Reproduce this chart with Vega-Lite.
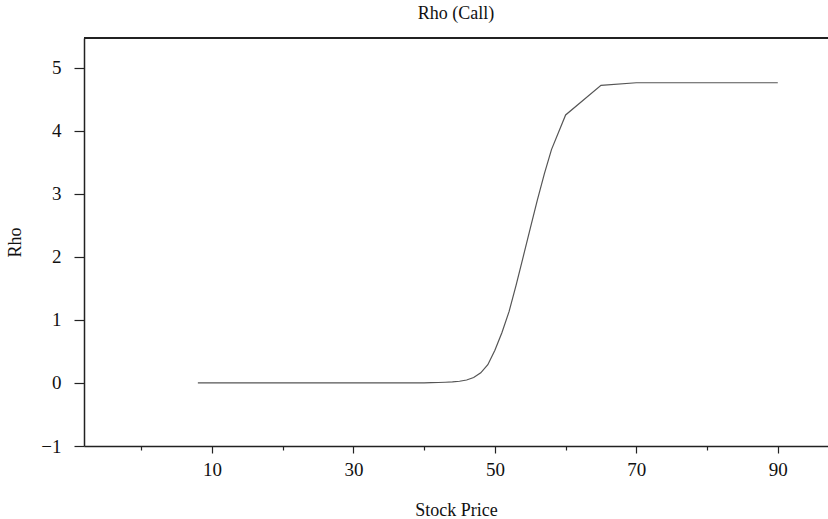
{
  "$schema": "https://vega.github.io/schema/vega-lite/v6.json",
  "width": 744,
  "height": 408,
  "autosize": "none",
  "padding": {"left": 84, "top": 38, "right": 0, "bottom": 73},
  "background": "white",
  "config": {
    "view": {"stroke": null},
    "font": "Liberation Serif",
    "axis": {
      "domainColor": "#222",
      "domainWidth": 1.5,
      "tickColor": "#222",
      "tickWidth": 1.2,
      "grid": false,
      "labelFont": "Liberation Serif",
      "labelFontSize": 19,
      "labelColor": "#111",
      "titleFont": "Liberation Serif",
      "titleFontSize": 18,
      "titleFontWeight": "normal",
      "titleColor": "#111"
    }
  },
  "title": {
    "text": "Rho (Call)",
    "font": "Liberation Serif",
    "fontSize": 18,
    "fontWeight": "normal",
    "color": "#111",
    "anchor": "middle",
    "offset": 14
  },
  "data": {
    "values": [
      {"price": 8, "rho": 0}, {"price": 10, "rho": 0}, {"price": 12, "rho": 0}, {"price": 14, "rho": 0},
      {"price": 16, "rho": 0}, {"price": 18, "rho": 0}, {"price": 20, "rho": 0}, {"price": 22, "rho": 0},
      {"price": 24, "rho": 0}, {"price": 26, "rho": 0}, {"price": 28, "rho": 0}, {"price": 30, "rho": 0},
      {"price": 32, "rho": 0}, {"price": 34, "rho": 0}, {"price": 36, "rho": 0}, {"price": 38, "rho": 0},
      {"price": 40, "rho": 0.002}, {"price": 41, "rho": 0.004}, {"price": 42, "rho": 0.007},
      {"price": 43, "rho": 0.011}, {"price": 44, "rho": 0.017}, {"price": 45, "rho": 0.027},
      {"price": 46, "rho": 0.047}, {"price": 47, "rho": 0.085}, {"price": 48, "rho": 0.16},
      {"price": 49, "rho": 0.29}, {"price": 50, "rho": 0.52}, {"price": 51, "rho": 0.8},
      {"price": 52, "rho": 1.13}, {"price": 53, "rho": 1.55}, {"price": 54, "rho": 2.0},
      {"price": 55, "rho": 2.45}, {"price": 56, "rho": 2.9}, {"price": 57, "rho": 3.32},
      {"price": 58, "rho": 3.7}, {"price": 60, "rho": 4.25}, {"price": 65, "rho": 4.72},
      {"price": 70, "rho": 4.76}, {"price": 75, "rho": 4.76}, {"price": 80, "rho": 4.76},
      {"price": 85, "rho": 4.76}, {"price": 90, "rho": 4.76}
    ]
  },
  "layer": [
    {
      "mark": {"type": "rule", "color": "#222", "strokeWidth": 1.5},
      "encoding": {"y": {"datum": 5.47, "type": "quantitative"}}
    },
    {
      "mark": {"type": "line", "color": "#555", "strokeWidth": 1.2},
      "encoding": {
        "x": {
          "field": "price",
          "type": "quantitative",
          "title": "Stock Price",
          "scale": {"domain": [-8.1, 97.1], "nice": false, "zero": false},
          "axis": {
            "values": [0, 10, 20, 30, 40, 50, 60, 70, 80, 90, 100],
            "format": "d",
            "labelExpr": "datum.value % 20 == 10 ? datum.label : ''",
            "tickSize": {"condition": {"test": "datum.value % 20 == 10", "value": 7}, "value": 4},
            "labelPadding": 7,
            "titlePadding": 22
          }
        },
        "y": {
          "field": "rho",
          "type": "quantitative",
          "title": "Rho",
          "scale": {"domain": [-1, 5.47], "nice": false, "zero": false},
          "axis": {
            "values": [-1, -0.5, 0, 0.5, 1, 1.5, 2, 2.5, 3, 3.5, 4, 4.5, 5],
            "format": "d",
            "labelExpr": "datum.value % 1 == 0 ? datum.label : ''",
            "tickSize": {"condition": {"test": "datum.value % 1 == 0", "value": 10}, "value": 5},
            "labelPadding": 13,
            "titlePadding": 16
          }
        }
      }
    }
  ]
}
